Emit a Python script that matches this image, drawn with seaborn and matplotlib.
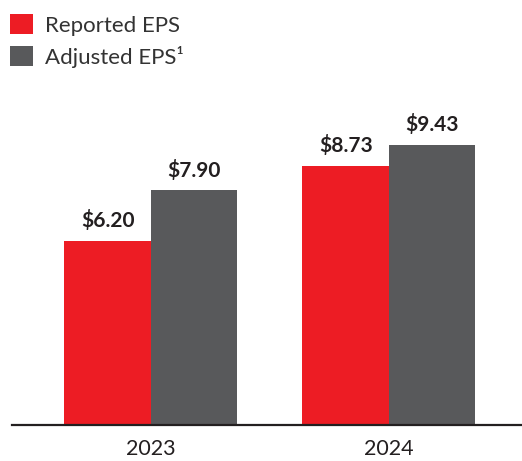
import pandas as pd
import matplotlib.pyplot as plt
import seaborn as sns

# chart data
years = ['2023', '2024']
series = ['Reported EPS', 'Adjusted EPS\u00b9']
reported_eps = [6.20, 8.73]
adjusted_eps = [7.90, 9.43]
palette = ['#ED1C24', '#58595B']

df = pd.DataFrame({
    'Year': years * 2,
    'Series': [series[0]] * len(years) + [series[1]] * len(years),
    'EPS': reported_eps + adjusted_eps,
})

sns.set_style('white')
plt.rcParams['font.family'] = ['Lato', 'DejaVu Sans']
text_color = '#231F20'

fig = plt.figure(figsize=(5.22, 4.61), dpi=100)
ax = fig.add_axes([12 / 522, 36 / 461, 510 / 522, (425 - 98.3) / 461])

sns.barplot(data=df, x='Year', y='EPS', hue='Series', palette=palette,
            width=0.727, saturation=1, ax=ax, linewidth=0)

# value labels above the bars
for container in ax.containers:
    ax.bar_label(container, labels=[f'${v:.2f}' for v in container.datavalues],
                 padding=7, fontsize=15, fontweight='bold', color=text_color)

ax.set_xlim(-0.584, 1.559)
ax.set_ylim(0, 11)
ax.set_xlabel('')
ax.set_ylabel('')
ax.set_yticks([])
ax.tick_params(axis='x', length=0, pad=10, labelsize=15.5, labelcolor=text_color)
for side in ['top', 'right', 'left']:
    ax.spines[side].set_visible(False)
ax.spines['bottom'].set_color(text_color)
ax.spines['bottom'].set_linewidth(1.6)

sns.move_legend(ax, loc='upper left', bbox_to_anchor=(12 / 522 - 0.003, 1 - 14 / 461),
                bbox_transform=fig.transFigure, frameon=False, title=None,
                fontsize=16, handlelength=1.0, handleheight=1.0,
                handletextpad=0.55, labelspacing=0.45, borderpad=0, borderaxespad=0)
for t in ax.get_legend().get_texts():
    t.set_color('#333333')

fig.savefig('out.png', dpi=100)
